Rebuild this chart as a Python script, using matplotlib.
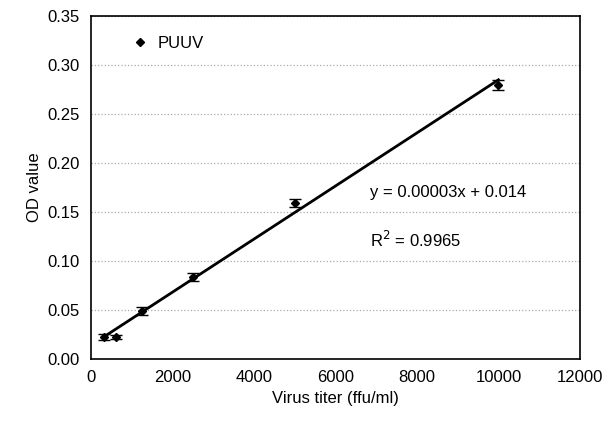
import numpy as np
import matplotlib
matplotlib.use('Agg')
from matplotlib import pyplot as plt
from matplotlib.lines import Line2D

# Data
titer = [312.5, 625, 1250, 2500, 5000, 10000]
od = [0.023, 0.023, 0.049, 0.084, 0.159, 0.280]
od_err = [0.003, 0.002, 0.004, 0.004, 0.004, 0.005]

xticks = [0, 2000, 4000, 6000, 8000, 10000, 12000]
yticks = [0.00, 0.05, 0.10, 0.15, 0.20, 0.25, 0.30, 0.35]

plt.rcParams['font.family'] = ['Liberation Sans', 'DejaVu Sans']

fig = plt.figure(figsize=(6.15, 4.21), dpi=100)
ax = fig.add_axes([0.148, 0.147, 0.795, 0.815])

# Linear trendline
k, b = np.polyfit(titer, od, 1)
xl = np.array([titer[0], titer[-1]])
ax.plot(xl, k*xl + b, '-k', linewidth=2, zorder=2)

ax.errorbar(titer, od, yerr=od_err, fmt='D', color='black', markersize=4,
            ecolor='black', elinewidth=1, capsize=4, capthick=1, zorder=3)

ax.set_xlim(0, 12000)
ax.set_ylim(0, 0.35)
ax.set_xticks(xticks)
ax.set_yticks(yticks)
ax.set_yticklabels(['%.2f' % v for v in yticks])
ax.tick_params(labelsize=12, length=0, pad=8)
ax.grid(axis='y', color='#aaaaaa', linestyle=':', linewidth=0.9)
ax.set_axisbelow(True)
for s in ax.spines.values():
    s.set_linewidth(1.2)

ax.set_xlabel('Virus titer (ffu/ml)', fontsize=12)
ax.set_ylabel('OD value', fontsize=12)

h = Line2D([], [], marker='D', color='black', linestyle='none', markersize=4)
ax.legend([h], ['PUUV'], loc='upper left', frameon=False, fontsize=12,
          handletextpad=0.4, handlelength=1.2, bbox_to_anchor=(0.05, 0.985))

ax.text(6850, 0.165, 'y = 0.00003x + 0.014', fontsize=12)
ax.text(6850, 0.114, 'R$^2$ = 0.9965', fontsize=12)

plt.savefig('out.png', dpi=100)
